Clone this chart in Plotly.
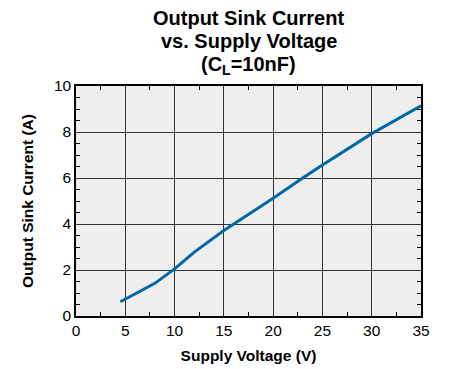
import plotly.graph_objects as go

supply_voltage = [4.5, 8, 10, 12, 15, 20, 23, 25, 30, 35]
sink_current = [0.62, 1.42, 2.05, 2.78, 3.72, 5.12, 6.0, 6.57, 7.93, 9.14]

title_lines = ["Output Sink Current", "vs. Supply Voltage", "(C<sub>L</sub>=10nF)"]
x_title = "Supply Voltage (V)"
y_title = "Output Sink Current (A)"

FONT = "Liberation Sans, Arial, sans-serif"

fig = go.Figure()
fig.add_trace(go.Scatter(x=supply_voltage, y=sink_current, mode="lines",
                         line=dict(color="#0068a5", width=3), showlegend=False))

axis_common = dict(
    showgrid=True, gridcolor="#333333", gridwidth=1,
    showline=True, linecolor="black", linewidth=1.5, mirror="allticks",
    ticks="inside", ticklen=0, tickcolor="black",
    zeroline=False, automargin=False,
    tickfont=dict(family=FONT, size=15.5, color="black"),
)

fig.update_xaxes(range=[0, 35], dtick=5, tick0=0,
                 minor=dict(dtick=2.5, ticks="inside", ticklen=4, tickcolor="black", showgrid=False),
                 title=dict(text="<b>%s</b>" % x_title,
                            font=dict(family=FONT, size=15.5, color="black"), standoff=12),
                 **axis_common)
fig.update_yaxes(range=[0, 10], dtick=2, tick0=0,
                 minor=dict(dtick=0.5, ticks="inside", ticklen=4, tickcolor="black", showgrid=False),
                 title=dict(text="<b>%s</b>" % y_title,
                            font=dict(family=FONT, size=15.5, color="black"), standoff=16),
                 **axis_common)

ys = [1.295, 1.195, 1.09]
for t, y in zip(title_lines, ys):
    fig.add_annotation(text="<b>%s</b>" % t, xref="paper", yref="paper", x=0.5, y=y,
                       xanchor="center", yanchor="middle", showarrow=False,
                       font=dict(family=FONT, size=20, color="black"))

fig.update_layout(
    width=458, height=369,
    margin=dict(l=76, r=37, t=86, b=53),
    plot_bgcolor="#eeeeee", paper_bgcolor="white",
    font=dict(family=FONT, color="black"),
)

fig.write_html("out.html")
